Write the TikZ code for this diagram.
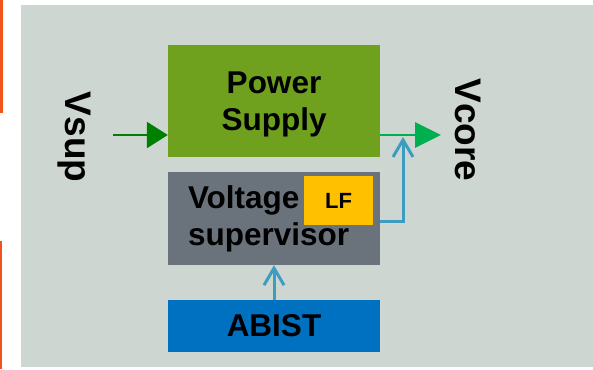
\documentclass[tikz,border=0pt]{standalone}
\usepackage{fontspec}
\setmainfont{Liberation Sans}
\usetikzlibrary{arrows.meta}
\definecolor{bgc}{HTML}{CED6D1}
\definecolor{psgreen}{HTML}{6FA11F}
\definecolor{vsgray}{HTML}{6A737B}
\definecolor{lfyel}{HTML}{FFC000}
\definecolor{abblue}{HTML}{0070C0}
\definecolor{ingreen}{HTML}{008000}
\definecolor{outgreen}{HTML}{00B050}
\definecolor{sigblue}{HTML}{3D9DC1}
\definecolor{edgeorange}{HTML}{F0541A}
\tikzset{
  blockbox/.style={draw=none, inner sep=0pt, minimum width=212pt, font=\bfseries\fontsize{31.5}{37}\selectfont, text=black},
  sideLabel/.style={font=\bfseries\fontsize{37}{40}\selectfont, rotate=-90, anchor=base, inner sep=0pt},
  sigline/.style={draw=sigblue, line width=3pt, -{Straight Barb[length=17pt,width=20pt,line width=3pt]}},
}
\begin{document}
\begin{tikzpicture}[x=1pt,y=-1pt]
\useasboundingbox (0,0) rectangle (593,369);
\fill[bgc] (21,5) rectangle (593,367);
\fill[edgeorange] (0,0) rectangle (3,113);
\fill[edgeorange] (0,241) rectangle (2,369);
% blocks
\node[blockbox, fill=psgreen, minimum height=112pt, align=center] (ps) at (274,101)
  {\rule{0pt}{29pt}Power\\Supply};
\node[blockbox, fill=vsgray, minimum height=93pt, align=left, text width=172pt, inner xsep=20pt] (vs) at (274,218.5)
  {Voltage\\supervisor};
\node[draw=none, fill=lfyel, minimum width=69pt, minimum height=49pt, inner sep=0pt, font=\bfseries\fontsize{22}{26}\selectfont] (lf) at (338.5,200.5) {LF};
\node[blockbox, fill=abblue, minimum height=52pt] (ab) at (274,326) {ABIST};
% side labels
\node[sideLabel] (vsup) at (65,137) {Vsup};
\node[sideLabel] (vcore) at (455,130) {Vcore};
% connectors
\coordinate (vin) at (113,135);
\coordinate (vout) at (441,135);
\coordinate (fbcorner) at (403,221);
\coordinate (fbtip) at (403,137);
\draw[draw=ingreen, line width=2.6pt, -{Triangle[length=21pt,width=26pt]}] (vin) -- (ps.west |- vin);
\draw[draw=outgreen, line width=2.8pt, -{Triangle[length=26pt,width=25pt]}] (ps.east |- vout) -- (vout);
\draw[sigline] (vs.east |- fbcorner) -- (fbcorner) -- (fbtip);
\draw[sigline] (ab.north) -- (vs.south);
\end{tikzpicture}
\end{document}
